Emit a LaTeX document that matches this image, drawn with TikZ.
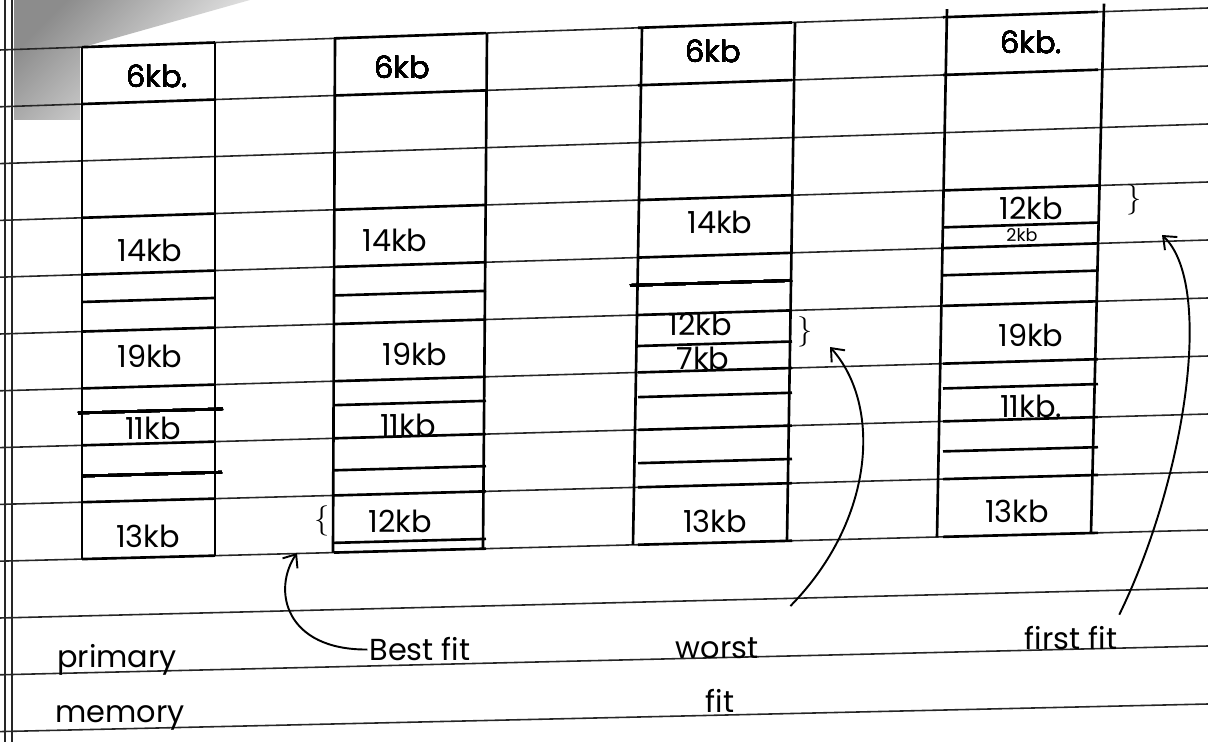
\documentclass[tikz,border=0pt]{standalone}
\usepackage{fontspec}
\setmainfont{Poppins}
\usepackage{tikz}
\usetikzlibrary{arrows.meta}

% height of ruled line #2 (may be fractional) at x = #1
\newcommand{\ruly}[2]{50+56.8*#2-(42-1.2*#2)/1208*#1}
% pen stroke across a column, from x=#1 to x=#2, along line #3
\newcommand{\memcut}[3]{\draw[pen] (#1,{\ruly{#1}{#3}}) -- (#2,{\ruly{#2}{#3}});}

\begin{document}
\begin{tikzpicture}[x=0.02cm, y=-0.02cm, >={Straight Barb[length=2.2mm,width=3.6mm]},
  ruled/.style={black!85, line width=0.9pt},
  pen/.style={black, line width=1.5pt},
  kb/.style={font=\LARGE, anchor=base, inner sep=1pt},
  smallkb/.style={font=\normalsize, anchor=base, inner sep=1pt},
  brace/.style={font=\LARGE, inner sep=0pt},
  fitarrow/.style={->, black, line width=1.1pt}]
  \fill[white] (0,0) rectangle (1208,742);
  \useasboundingbox (0,0) rectangle (1208,742);
  % notebook page
  \shade[shading=axis, top color=black!45, bottom color=white, shading angle=45]
    (14,0) -- (250,0) -- (80,48) -- (80,120) -- (14,120) -- cycle;
  \foreach \k in {0,...,12} \draw[ruled] (0,{\ruly{0}{\k}}) -- (1208,{\ruly{1208}{\k}});
  \draw[ruled] (5,0) -- (5,742);
  \draw[ruled] (12,0) -- (12,742);
  % primary memory
  \draw[pen] (82,{\ruly{82}{0}}) -- (82,{\ruly{82}{9}});
  \draw[pen] (215,{\ruly{215}{0}}) -- (215,{\ruly{215}{9}});
  \foreach \k in {0,1,3,4,4.48,5,6,7,8,9} \memcut{82}{215}{\k}
  \memcut{78}{223}{6.43}
  \memcut{83}{222}{7.54}
  \node[kb] (a6) at (157,88) {6kb.};
  \node[kb] (a14) at (150,262) {14kb};
  \node[kb] (a19) at (150,368) {19kb};
  \node[kb] (a11) at (153,440) {11kb};
  \node[kb] (a13) at (148,548) {13kb};
  % best fit
  \draw[pen] (335,{\ruly{335}{0}}) -- (333,{\ruly{333}{9}});
  \draw[pen] (487,{\ruly{487}{0}}) -- (483,{\ruly{483}{9}});
  \foreach \k in {0,1,3,4,4.5,5,6,6.42,7,7.56,8,8.83,9} \memcut{334}{486}{\k}
  \node[kb] (b6) at (402,79) {6kb};
  \node[kb] (b14) at (395,252) {14kb};
  \node[kb] (b19) at (415,366) {19kb};
  \node[kb] (b11) at (408,437) {11kb};
  \node[kb] (b12) at (400,533) {12kb};
  \node[brace] (bbr) at (322,521) {$\{$};
  % worst fit
  \draw[pen] (642,{\ruly{642}{0}}) -- (633,{\ruly{633}{9}});
  \draw[pen] (795,{\ruly{795}{0}}) -- (787,{\ruly{787}{9}});
  \foreach \k in {0,1,3,4,5,5.54,6,6.43,7,7.58,8,9} \memcut{638}{792}{\k}
  \memcut{630}{792}{4.48}
  \node[kb] (c6) at (713,63) {6kb};
  \node[kb] (c14) at (720,234) {14kb};
  \node[kb] (c12) at (700,336) {12kb};
  \node[kb] (c7) at (703,370) {7kb};
  \node[kb] (c13) at (715,533) {13kb};
  \node[brace] (wbr) at (805,332) {$\}$};
  % first fit
  \draw[pen] (947,{\ruly{947}{0}-8}) -- (937,{\ruly{937}{9}});
  \draw[pen] (1104,{\ruly{1104}{0}-8}) -- (1091,{\ruly{1091}{9}});
  \foreach \k in {0,1,3,3.64,4,4.47,5,6,6.43,7,7.52,8,9} \memcut{943}{1098}{\k}
  \node[kb] (d6) at (1031,54) {6kb.};
  \node[kb] (d12) at (1031,220) {12kb};
  \node[smallkb] (d2) at (1022,242) {2kb};
  \node[kb] (d19) at (1031,347) {19kb};
  \node[kb] (d11) at (1031,418) {11kb.};
  \node[kb] (d13) at (1017,523) {13kb};
  \node[brace] (fbr) at (1134,200) {$\}$};
  % labels underneath
  \node[kb] (primary) at (117,668) {primary};
  \node[kb] (memory) at (120,723) {memory};
  \node[kb] (bestfit) at (420,661) {Best fit};
  \node[kb] (worst) at (717,659) {worst};
  \node[kb] (worstfit) at (720,713) {fit};
  \node[kb] (firstfit) at (1071,650) {first fit};
  % arrows
  \coordinate (bftip) at (297,553);
  \draw[fitarrow] (bestfit.west) .. controls (285,650) and (272,590) .. (bftip);
  \coordinate (wftip) at (830,347);
  \draw[fitarrow] ([xshift=6mm,yshift=6mm]worst.north east) .. controls (875,520) and (882,405) .. (wftip);
  \coordinate (fftip) at (1162,235);
  \draw[fitarrow] ([yshift=2mm]firstfit.north east) .. controls (1185,480) and (1215,285) .. (fftip);
\end{tikzpicture}
\end{document}
